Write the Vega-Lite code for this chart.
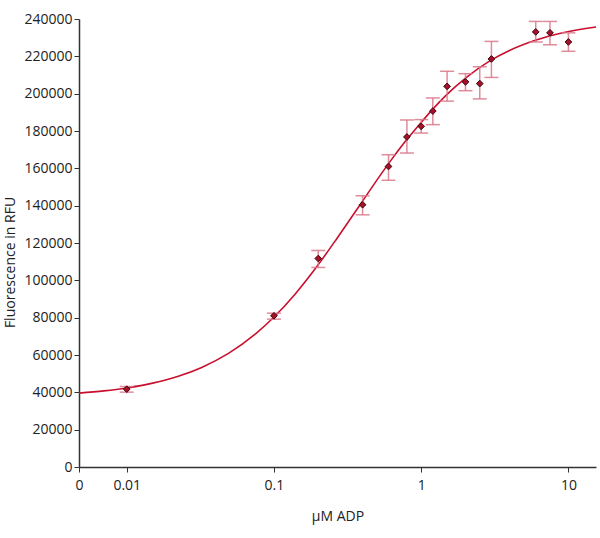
{
  "$schema": "https://vega.github.io/schema/vega-lite/v6.json",
  "width": 517,
  "height": 448,
  "autosize": {"type": "none"},
  "padding": {"left": 79, "top": 19, "right": 4, "bottom": 71},
  "background": "white",
  "config": {
    "view": {"stroke": null},
    "font": "Open Sans",
    "axis": {"grid": false, "domainColor": "#333333", "domainWidth": 1.5, "tickColor": "#333333", "tickSize": 5, "labelColor": "#222222", "titleColor": "#222222", "labelFont": "Open Sans", "titleFont": "Open Sans", "labelFontSize": 14, "titleFontSize": 14, "titleFontWeight": "normal", "labelOverlap": false},
    "axisY": {"values": [0, 20000, 40000, 60000, 80000, 100000, 120000, 140000, 160000, 180000, 200000, 220000, 240000], "format": "d", "labelPadding": 2, "titlePadding": 6, "titleY": 243, "labelOverlap": false}
  },
  "datasets": {
    "curve": [
      {"x": 0.00474, "y": 39574}, {"x": 0.007, "y": 40779}, {"x": 0.01, "y": 42356}, {"x": 0.015, "y": 44928},
      {"x": 0.0224, "y": 48615}, {"x": 0.0323, "y": 53339}, {"x": 0.0491, "y": 60841}, {"x": 0.0757, "y": 71564},
      {"x": 0.0993, "y": 80062}, {"x": 0.14, "y": 92865}, {"x": 0.194, "y": 106996}, {"x": 0.27, "y": 122850},
      {"x": 0.391, "y": 141300}, {"x": 0.521, "y": 155700}, {"x": 0.625, "y": 164400}, {"x": 0.791, "y": 175000},
      {"x": 1.0, "y": 184600}, {"x": 1.2, "y": 191700}, {"x": 1.48, "y": 199200}, {"x": 2.02, "y": 208600},
      {"x": 2.91, "y": 217400}, {"x": 3.98, "y": 223100}, {"x": 6.04, "y": 228700}, {"x": 9.16, "y": 232600},
      {"x": 15.4, "y": 235725}
    ],
    "points": [
      {"x": 0.01, "y": 41700, "lo": 40100, "hi": 43100},
      {"x": 0.1, "y": 81000, "lo": 79200, "hi": 82400},
      {"x": 0.2, "y": 111700, "lo": 106900, "hi": 116000},
      {"x": 0.4, "y": 140500, "lo": 135100, "hi": 145300},
      {"x": 0.6, "y": 161000, "lo": 153600, "hi": 167300},
      {"x": 0.8, "y": 176800, "lo": 168200, "hi": 185900},
      {"x": 1.0, "y": 182500, "lo": 178900, "hi": 186100},
      {"x": 1.2, "y": 190700, "lo": 183400, "hi": 197700},
      {"x": 1.5, "y": 203900, "lo": 196000, "hi": 212000},
      {"x": 2.0, "y": 206300, "lo": 201600, "hi": 210700},
      {"x": 2.5, "y": 205400, "lo": 197200, "hi": 214400},
      {"x": 3.0, "y": 218600, "lo": 208700, "hi": 228000},
      {"x": 6.0, "y": 233100, "lo": 227700, "hi": 238700},
      {"x": 7.5, "y": 232600, "lo": 226200, "hi": 238700},
      {"x": 10.0, "y": 227700, "lo": 222700, "hi": 232600}
    ]
  },
  "encoding": {
    "x": {"field": "x", "type": "quantitative", "title": "µM ADP",
      "scale": {"type": "log", "domain": [0.00474, 15.4], "nice": false},
      "axis": {"values": [0.00474, 0.01, 0.1, 1, 10], "labelExpr": "datum.value < 0.006 ? '0' : format(datum.value, '~g')", "labelPadding": 6, "titlePadding": 17, "labelFlush": false}
    }
  },
  "layer": [
    {
      "data": {"name": "curve"},
      "mark": {"type": "line", "color": "#c8102e", "strokeWidth": 1.6, "interpolate": "monotone"},
      "encoding": {
        "y": {"field": "y", "type": "quantitative", "title": "Fluorescence in RFU",
          "scale": {"domain": [0, 240000], "nice": false}}
      }
    },
    {
      "data": {"name": "points"},
      "mark": {"type": "rule", "color": "#d9788a", "strokeWidth": 1.5, "opacity": 0.85},
      "encoding": {"y": {"field": "lo", "type": "quantitative", "title": "Fluorescence in RFU"}, "y2": {"field": "hi"}}
    },
    {
      "data": {"name": "points"},
      "mark": {"type": "tick", "orient": "horizontal", "size": 14, "thickness": 1.5, "color": "#d9788a", "opacity": 0.85},
      "encoding": {"y": {"field": "lo", "type": "quantitative", "title": "Fluorescence in RFU"}}
    },
    {
      "data": {"name": "points"},
      "mark": {"type": "tick", "orient": "horizontal", "size": 14, "thickness": 1.5, "color": "#d9788a", "opacity": 0.85},
      "encoding": {"y": {"field": "hi", "type": "quantitative", "title": "Fluorescence in RFU"}}
    },
    {
      "data": {"name": "points"},
      "mark": {"type": "point", "shape": "diamond", "size": 45, "filled": true, "fill": "#a8102a", "stroke": "#3a0a10", "strokeWidth": 1, "opacity": 1},
      "encoding": {"y": {"field": "y", "type": "quantitative", "title": "Fluorescence in RFU"}}
    }
  ]
}
